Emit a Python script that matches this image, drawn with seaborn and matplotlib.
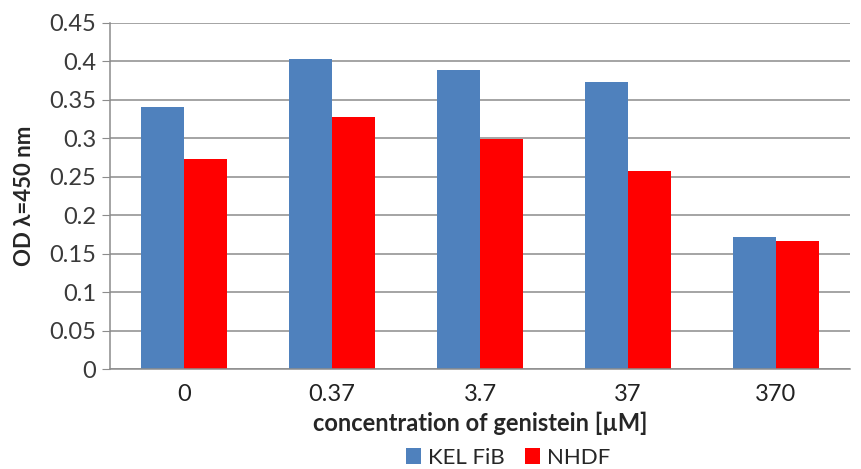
import matplotlib
matplotlib.use("Agg")
import matplotlib.pyplot as plt
import seaborn as sns
import pandas as pd

categories = ["0", "0.37", "3.7", "37", "370"]
kel_fib = [0.341, 0.403, 0.388, 0.373, 0.172]
nhdf = [0.273, 0.328, 0.299, 0.257, 0.167]
series_names = ["KEL FiB", "NHDF"]
colors = ["#4F81BD", "#FF0000"]
y_ticks = [0, 0.05, 0.1, 0.15, 0.2, 0.25, 0.3, 0.35, 0.4, 0.45]
y_tick_labels = ["0", "0.05", "0.1", "0.15", "0.2", "0.25", "0.3", "0.35", "0.4", "0.45"]

df = pd.DataFrame({
    "conc": categories * 2,
    "value": kel_fib + nhdf,
    "series": [series_names[0]] * len(categories) + [series_names[1]] * len(categories),
})

sns.set_style("white")
plt.rcParams["font.family"] = ["Lato", "DejaVu Sans"]

fig = plt.figure(figsize=(8.61, 4.69), dpi=100)
ax = fig.add_axes([0.1278, 0.2122, 0.8594, 0.7394])

sns.barplot(data=df, x="conc", y="value", hue="series", palette=colors,
            width=0.58, gap=0, ax=ax, legend=True, saturation=1,
            edgecolor="none")

ax.set_ylim(0, 0.45)
ax.set_xlim(-0.5, 4.5)
ax.set_yticks(y_ticks)
ax.set_yticklabels(y_tick_labels)
ax.yaxis.grid(True, color="#8c8c8c", linewidth=1.1)
ax.set_axisbelow(True)
for s in ["top", "right"]:
    ax.spines[s].set_visible(False)
ax.spines["left"].set_color("#8c8c8c")
ax.spines["bottom"].set_color("#8c8c8c")
ax.spines["left"].set_linewidth(1.1)
ax.spines["bottom"].set_linewidth(1.1)
ax.tick_params(axis="y", left=True, length=6, color="#8c8c8c", labelsize=17, colors="#8c8c8c", labelcolor="#3a3a3a", pad=4)
ax.tick_params(axis="x", bottom=False, labelsize=17, labelcolor="#222222", pad=7)

ax.set_xlabel("concentration of genistein [µM]", fontsize=17, fontweight="bold", labelpad=5)
ax.set_ylabel("OD λ=450 nm", fontsize=16, fontweight="bold", labelpad=10)

handles, labels = ax.get_legend_handles_labels()
ax.get_legend().remove()
fig.legend(handles, labels, loc="center", bbox_to_anchor=(0.59, 0.024),
           ncol=2, frameon=False, fontsize=16, handlelength=0.7, handleheight=0.7,
           handletextpad=0.3, columnspacing=0.9, borderaxespad=0, borderpad=0)

fig.savefig("out.png", dpi=100)
